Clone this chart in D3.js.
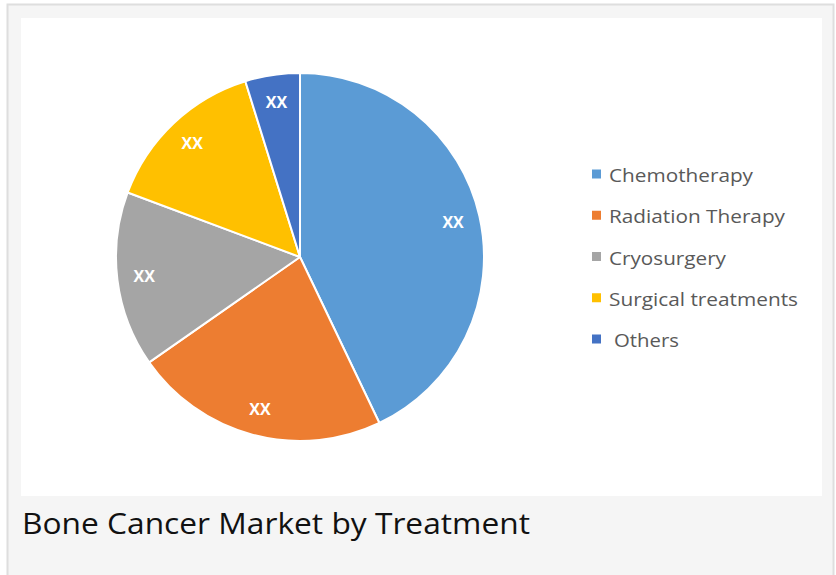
<!DOCTYPE html>
<head>
    <meta charset="utf-8">
    <title>Bone Cancer Market by Treatment</title>
    <style>
        body { margin: 0; background: #fff; }
        svg text { font-family: "Open Sans", sans-serif; }
    </style>
</head>
<body>

<svg width="836" height="575"></svg>

<script src="https://d3js.org/d3.v7.min.js"></script>

<script>

    // chart data (shares in %)
    var treatments = ["Chemotherapy", "Radiation Therapy", "Cryosurgery", "Surgical treatments", "Others"];
    var shares = [42.9, 22.4, 15.4, 14.5, 4.8];
    var sliceLabels = ["XX", "XX", "XX", "XX", "XX"];
    var colors = ["#5b9bd5", "#ed7d31", "#a5a5a5", "#ffc000", "#4472c4"];
    var title = "Bone Cancer Market by Treatment";

    var svg = d3.select("svg"),
        width = +svg.attr("width"),
        height = +svg.attr("height");

    // grey card with the white plot area inside
    svg.append("rect")
        .attr("x", 7.5).attr("y", 4.5)
        .attr("width", 826).attr("height", 580)
        .attr("fill", "#f5f5f5")
        .attr("stroke", "#dedede")
        .attr("stroke-width", 2);

    svg.append("rect")
        .attr("x", 21).attr("y", 18)
        .attr("width", 801).attr("height", 478)
        .attr("fill", "#fff");

    var color = d3.scaleOrdinal().domain(treatments).range(colors);

    var data = treatments.map(function(t, i) {
        return { name: t, value: shares[i], label: sliceLabels[i] };
    });

    var pie = d3.pie()
        .sort(null)
        .value(function(d) { return d.value; });

    var radius = 184;
    var arc = d3.arc().innerRadius(0).outerRadius(radius);
    var labelArc = d3.arc().innerRadius(157).outerRadius(157);

    var g = svg.append("g")
        .attr("transform", "translate(300,257)");

    g.selectAll("path")
        .data(pie(data))
        .enter().append("path")
            .attr("d", arc)
            .attr("fill", function(d) { return color(d.data.name); })
            .attr("stroke", "#fff")
            .attr("stroke-width", 2)
            .attr("stroke-linejoin", "round");

    g.selectAll("text.lbl")
        .data(pie(data))
        .enter().append("text")
            .attr("class", "lbl")
            .attr("transform", function(d) { return "translate(" + labelArc.centroid(d) + ")"; })
            .attr("text-anchor", "middle")
            .attr("dy", "0.36em")
            .attr("fill", "#fff")
            .attr("font-size", 16)
            .attr("font-weight", "bold")
            .text(function(d) { return d.data.label; });

    // legend on the right
    var legendY = d3.scalePoint()
        .domain(treatments)
        .range([174, 339]);

    var legendWidths = [144, 176, 117, 189, 65];

    var legend = svg.append("g")
        .selectAll("g")
        .data(treatments)
        .enter().append("g")
            .attr("transform", function(d) { return "translate(0," + legendY(d) + ")"; });

    legend.append("rect")
        .attr("x", 592).attr("y", -4.5)
        .attr("width", 9).attr("height", 9)
        .attr("fill", function(d) { return color(d); });

    legend.append("text")
        .attr("x", function(d, i) { return i === 4 ? 614 : 609; })
        .attr("y", 8)
        .attr("font-size", 19)
        .attr("fill", "#595959")
        .attr("textLength", function(d, i) { return legendWidths[i]; })
        .attr("lengthAdjust", "spacingAndGlyphs")
        .text(function(d) { return d; });

    // caption under the chart
    svg.append("text")
        .attr("x", 22)
        .attr("y", 534)
        .attr("font-size", 30)
        .attr("fill", "#111")
        .attr("textLength", 508)
        .attr("lengthAdjust", "spacingAndGlyphs")
        .text(title);

</script>
</body>
